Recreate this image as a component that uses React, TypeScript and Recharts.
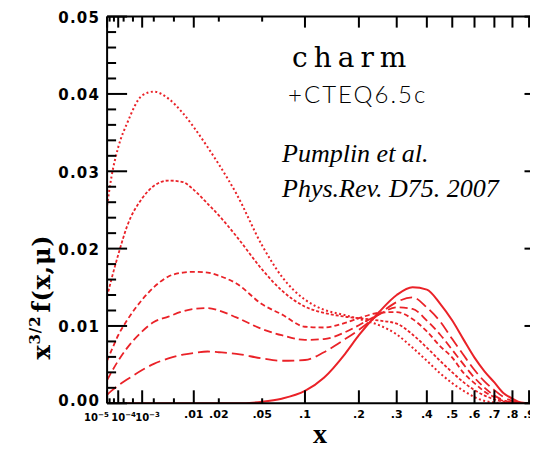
import { LineChart, Line, XAxis, YAxis } from "recharts";

const X = [
  1e-5, 3e-5, 1e-4, 3e-4, 1e-3, 2e-3, 4e-3, 7e-3, 0.01, 0.015, 0.02, 0.03, 0.05, 0.07, 0.1, 0.13, 0.17,
  0.2, 0.25, 0.3, 0.35, 0.4, 0.45, 0.5, 0.55, 0.6, 0.65, 0.7, 0.75, 0.8, 0.85, 0.9, 1.0,
];

// x^{3/2} f(x,mu) for each curve, same order as X
const DOTTED = [
  0.0256, 0.0292, 0.0331, 0.0363, 0.0398, 0.0403, 0.0394, 0.0375, 0.0357, 0.0331, 0.0309, 0.0271, 0.0204, 0.0164, 0.0134, 0.0121, 0.0114,
  0.0109, 0.0101, 0.0089, 0.0072, 0.0055, 0.0039, 0.0026, 0.0016, 0.0008, 0.0003, 0.0001, 0, 0, 0, 0, 0,
];
const DASH_DOT = [
  0.0138, 0.0160, 0.0192, 0.0230, 0.0265, 0.0281, 0.0288, 0.0286, 0.0276, 0.0258, 0.0243, 0.0216, 0.0173, 0.0146, 0.0125, 0.0117, 0.0112,
  0.0110, 0.0107, 0.0103, 0.0089, 0.0072, 0.0055, 0.0040, 0.0027, 0.0017, 0.0010, 0.0005, 0.0002, 0.0001, 0, 0, 0,
];
const SHORT_DASH = [
  0.0055, 0.0068, 0.0088, 0.0108, 0.0134, 0.0150, 0.0164, 0.0169, 0.0170, 0.0169, 0.0165, 0.0155, 0.0128, 0.0115, 0.0099, 0.0098, 0.0104,
  0.0110, 0.0117, 0.0118, 0.0109, 0.0093, 0.0074, 0.0059, 0.0039, 0.0026, 0.0015, 0.0008, 0.0003, 0.0001, 0, 0, 0,
];
const DASH = [
  0.0030, 0.0040, 0.0055, 0.0072, 0.0093, 0.0105, 0.0112, 0.0119, 0.0122, 0.0123, 0.0120, 0.0111, 0.0096, 0.0088, 0.0082, 0.0083, 0.0092,
  0.0101, 0.0115, 0.0124, 0.0122, 0.0107, 0.0089, 0.0069, 0.0050, 0.0033, 0.0020, 0.0010, 0.0004, 0.0001, 0, 0, 0,
];
const LONG_DASH = [
  0.0011, 0.0016, 0.0023, 0.0031, 0.0043, 0.0051, 0.0058, 0.0063, 0.0065, 0.0067, 0.0066, 0.0064, 0.0058, 0.0055, 0.0056, 0.0066, 0.0083,
  0.0095, 0.0115, 0.0131, 0.0137, 0.0124, 0.0106, 0.0083, 0.0062, 0.0043, 0.0028, 0.0017, 0.0008, 0.0003, 0.0001, 0, 0,
];
const SOLID = [
  0, 0, 0, 0, 0, 0, 0, 0, 0, 0, 0, 0, 0.0002, 0.0006, 0.0016, 0.0033, 0.0064,
  0.0088, 0.0118, 0.0140, 0.0150, 0.0147, 0.0129, 0.0107, 0.0082, 0.0059, 0.0041, 0.0027, 0.0013, 0.0006, 0.0001, 0, 0,
];

// axis ticks
const X_TICKS = [1e-5, 2e-5, 5e-5, 1e-4, 2e-4, 5e-4, 1e-3, 2e-3, 5e-3, 0.01, 0.02, 0.05, 0.1, 0.2, 0.3, 0.4, 0.5, 0.6, 0.7, 0.8, 0.9];
const X_MINOR = [2e-5, 5e-5, 2e-4, 5e-4, 2e-3, 5e-3, 0.02, 0.05];
const X_LABEL_AT = [1e-5, 1e-4, 1e-3, 0.01, 0.02, 0.05, 0.1, 0.2, 0.3, 0.4, 0.5, 0.6, 0.7, 0.8, 0.9];
const X_LABELS = ["10|-5", "10|-4", "10|-3", ".01", ".02", ".05", ".1", ".2", ".3", ".4", ".5", ".6", ".7", ".8", ".9"];
const Y_MAJOR = [0, 0.01, 0.02, 0.03, 0.04, 0.05];
const Y_LABELS = ["0.00", "0.01", "0.02", "0.03", "0.04", "0.05"];

const RED = "#ea2228";
const T_MIN = Math.cbrt(1e-5);

// the x axis of the original plot is linear in x^(1/3)
const rows = X.map((x, i) => ({
  t: Math.cbrt(x),
  dotted: DOTTED[i],
  dashDot: DASH_DOT[i],
  shortDash: SHORT_DASH[i],
  dash: DASH[i],
  longDash: LONG_DASH[i],
  solid: SOLID[i],
}));

const Y_TICKS: number[] = [];
for (let k = 0; k <= 25; k++) Y_TICKS.push(+(k * 0.002).toFixed(3));

const near = (a: number, b: number) => Math.abs(a - b) < 1e-9;
const xOf = (t: number) => X_TICKS.find(v => near(Math.cbrt(v), t)) ?? 0;
const isMinorX = (x: number) => X_MINOR.some(v => near(v, x));

const tickFont = { fontFamily: "DejaVu Sans", fontWeight: 700 as const };

const BottomTick = (props: any) => {
  const { x, y, payload } = props;
  const xv = xOf(payload.value);
  const len = isMinorX(xv) ? 5 : 13;
  const idx = X_LABEL_AT.findIndex(v => near(v, xv));
  const label = idx >= 0 ? X_LABELS[idx] : null;
  let text = null;
  if (label && label.includes("|")) {
    const [base, exp] = label.split("|");
    const start = idx === 0 ? x - 23 : x - 7;
    text = (
      <text x={start} y={y + 18} fontSize={10} {...tickFont} fill="#000">
        <tspan>{base}</tspan>
        <tspan dy={-4} fontSize={7}>{exp.replace("-", "\u2212")}</tspan>
      </text>
    );
  } else if (label) {
    text = (
      <text x={x} y={y + 15} fontSize={11} textAnchor="middle" {...tickFont} fill="#000">
        {label}
      </text>
    );
  }
  return (
    <g>
      <line x1={x} y1={y} x2={x} y2={y - len} stroke="#000" strokeWidth={2} />
      {text}
    </g>
  );
};

const TopTick = (props: any) => {
  const { x, y, payload } = props;
  const len = isMinorX(xOf(payload.value)) ? 5 : 11;
  return <line x1={x} y1={y} x2={x} y2={y + len} stroke="#000" strokeWidth={2} />;
};

const LeftTick = (props: any) => {
  const { x, y, payload } = props;
  const idx = Y_MAJOR.findIndex(v => near(v, payload.value));
  const len = idx >= 0 ? 20 : 9;
  return (
    <g>
      <line x1={x} y1={y} x2={x + len} y2={y} stroke="#000" strokeWidth={2} />
      {idx >= 0 && (
        <text x={x - 7} y={y + (idx === 0 ? 3 : 6.5)} fontSize={15} letterSpacing={1.2} textAnchor="end" {...tickFont} fill="#000">
          {Y_LABELS[idx]}
        </text>
      )}
    </g>
  );
};

const RightTick = (props: any) => {
  const { x, y, payload } = props;
  const len = Y_MAJOR.some(v => near(v, payload.value)) ? 20 : 9;
  return <line x1={x} y1={y} x2={x - len} y2={y} stroke="#000" strokeWidth={2} />;
};

const axisLine = { stroke: "#000", strokeWidth: 2 };

export default function App() {
  return (
    <div style={{ position: "relative", width: 538, height: 454, margin: -8, overflow: "hidden", background: "#fff" }}>
      {/* each axis takes 1px, so margins are 1px short of the plot edges */}
      <LineChart width={560} height={454} data={rows} margin={{ top: 15.6, right: 14.5, bottom: 49.7, left: 106.1 }}>
        <XAxis
          dataKey="t" type="number" domain={[T_MIN, 1]} allowDataOverflow
          ticks={X_TICKS.map(Math.cbrt)} interval={0}
          height={1} tickSize={0} tickMargin={0} tickLine={false}
          axisLine={axisLine} tick={BottomTick}
        />
        <XAxis
          xAxisId="top" orientation="top" dataKey="t" type="number" domain={[T_MIN, 1]} allowDataOverflow
          ticks={X_TICKS.map(Math.cbrt)} interval={0}
          height={1} tickSize={0} tickMargin={0} tickLine={false}
          axisLine={axisLine} tick={TopTick}
        />
        <YAxis
          type="number" domain={[0, 0.05]} allowDataOverflow ticks={Y_TICKS} interval={0}
          width={1} tickSize={0} tickMargin={0} tickLine={false}
          axisLine={axisLine} tick={LeftTick}
        />
        <YAxis
          yAxisId="r" orientation="right" type="number" domain={[0, 0.05]} allowDataOverflow ticks={Y_TICKS} interval={0}
          width={1} tickSize={0} tickMargin={0} tickLine={false}
          axisLine={axisLine} tick={RightTick}
        />
        <Line dataKey="dotted" type="monotone" stroke={RED} strokeWidth={2} strokeDasharray="2 2.5" dot={false} activeDot={false} isAnimationActive={false} />
        <Line dataKey="dashDot" type="monotone" stroke={RED} strokeWidth={1.8} strokeDasharray="3 2" dot={false} activeDot={false} isAnimationActive={false} />
        <Line dataKey="shortDash" type="monotone" stroke={RED} strokeWidth={1.8} strokeDasharray="5 3" dot={false} activeDot={false} isAnimationActive={false} />
        <Line dataKey="dash" type="monotone" stroke={RED} strokeWidth={1.8} strokeDasharray="8 4" dot={false} activeDot={false} isAnimationActive={false} />
        <Line dataKey="longDash" type="monotone" stroke={RED} strokeWidth={1.8} strokeDasharray="12 5" dot={false} activeDot={false} isAnimationActive={false} />
        <Line dataKey="solid" type="monotone" stroke={RED} strokeWidth={2} dot={false} activeDot={false} isAnimationActive={false} />
      </LineChart>

      {/* titles and annotations */}
      <svg width={538} height={454} style={{ position: "absolute", left: 0, top: 0, pointerEvents: "none" }}>
        <text x={292} y={67} fontFamily="DejaVu Serif" fontSize={28} letterSpacing={6}>charm</text>
        <text x={288} y={102.5} fontFamily="Lato" fontWeight={300} fontSize={24} letterSpacing={2}>+CTEQ6.5c</text>
        <text x={282} y={162} fontFamily="Liberation Serif" fontStyle="italic" fontSize={26}>Pumplin et al.</text>
        <text x={282} y={197} fontFamily="Liberation Serif" fontStyle="italic" fontSize={26}>Phys.Rev. D75. 2007</text>
        <text x={320} y={443} textAnchor="middle" fontFamily="Liberation Serif" fontWeight={700} fontSize={28}>x</text>
        <text
          x={50} y={297} transform="rotate(-90, 50, 297)" textAnchor="middle"
          fontFamily="DejaVu Serif" fontWeight={700} fontSize={24} letterSpacing={0.8}
        >
          <tspan>x</tspan>
          <tspan dy={-10} fontSize={15}>3/2</tspan>
          <tspan dy={10} dx={3}>f(x,μ)</tspan>
        </text>
      </svg>
    </div>
  );
}
